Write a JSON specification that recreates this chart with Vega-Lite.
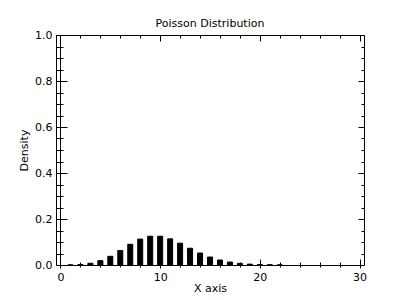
{
  "$schema": "https://vega.github.io/schema/vega-lite/v6.json",
  "width": 308,
  "height": 230,
  "autosize": {"type": "none"},
  "padding": {"left": 56, "top": 35, "right": 36, "bottom": 35},
  "background": "white",
  "title": {"text": "Poisson Distribution", "fontSize": 11, "fontWeight": "normal", "font": "DejaVu Sans", "color": "black", "baseline": "alphabetic", "offset": -9, "anchor": "middle"},
  "config": {
    "view": {"stroke": "black", "strokeWidth": 1},
    "axis": {"labelFont": "DejaVu Sans", "titleFont": "DejaVu Sans", "labelFontSize": 11, "titleFontSize": 11, "titleFontWeight": "normal", "labelColor": "black", "titleColor": "black", "tickColor": "black", "tickWidth": 1, "domain": false, "grid": false, "labelFlush": false, "labelOverlap": false}
  },
  "data": {"values": [
    {"k": 1, "density": 0.00045},
    {"k": 2, "density": 0.00227},
    {"k": 3, "density": 0.00757},
    {"k": 4, "density": 0.0189},
    {"k": 5, "density": 0.0378},
    {"k": 6, "density": 0.0631},
    {"k": 7, "density": 0.0901},
    {"k": 8, "density": 0.1126},
    {"k": 9, "density": 0.1251},
    {"k": 10, "density": 0.1251},
    {"k": 11, "density": 0.1137},
    {"k": 12, "density": 0.0948},
    {"k": 13, "density": 0.0729},
    {"k": 14, "density": 0.0521},
    {"k": 15, "density": 0.0347},
    {"k": 16, "density": 0.0217},
    {"k": 17, "density": 0.0128},
    {"k": 18, "density": 0.0071},
    {"k": 19, "density": 0.0037},
    {"k": 20, "density": 0.0019},
    {"k": 21, "density": 0.0009},
    {"k": 22, "density": 0.0004}
  ]},
  "resolve": {"axis": {"x": "independent", "y": "independent"}},
  "layer": [
    {
      "mark": {"type": "bar", "size": 5, "color": "black", "stroke": "black", "strokeWidth": 1},
      "encoding": {
        "x": {"field": "k", "type": "quantitative", "scale": {"domain": [-0.45, 30.45], "nice": false, "zero": false, "padding": 0},
          "axis": {"orient": "bottom", "values": [0, 10, 20, 30], "tickSize": 9, "offset": -6, "labelPadding": 3, "title": "X axis", "titlePadding": 0, "format": "d"}},
        "y": {"field": "density", "type": "quantitative", "scale": {"domain": [0, 1], "nice": false, "padding": 0},
          "axis": {"orient": "left", "values": [0, 0.2, 0.4, 0.6, 0.8, 1.0], "format": ".1f", "tickSize": 11, "offset": -11, "labelPadding": 4, "title": "Density", "titlePadding": 5}}
      }
    },
    {
      "mark": {"type": "point", "opacity": 0},
      "encoding": {
        "x": {"field": "k", "type": "quantitative", "scale": {"domain": [-0.45, 30.45], "nice": false, "zero": false, "padding": 0},
          "axis": {"orient": "bottom", "values": [2, 4, 6, 8, 12, 14, 16, 18, 22, 24, 26, 28], "tickSize": 5, "offset": -3, "labels": false, "title": null}},
        "y": {"field": "density", "type": "quantitative", "scale": {"domain": [0, 1], "nice": false, "padding": 0},
          "axis": {"orient": "left", "values": [0.05, 0.1, 0.15, 0.25, 0.3, 0.35, 0.45, 0.5, 0.55, 0.65, 0.7, 0.75, 0.85, 0.9, 0.95], "tickSize": 7, "offset": -7, "labels": false, "title": null}}
      }
    },
    {
      "mark": {"type": "point", "opacity": 0},
      "encoding": {
        "x": {"field": "k", "type": "quantitative", "scale": {"domain": [-0.45, 30.45], "nice": false, "zero": false, "padding": 0},
          "axis": {"orient": "top", "values": [0, 10, 20, 30], "tickSize": 6, "offset": -6, "labels": false, "title": null}},
        "y": {"field": "density", "type": "quantitative", "scale": {"domain": [0, 1], "nice": false, "padding": 0},
          "axis": {"orient": "right", "values": [0, 0.2, 0.4, 0.6, 0.8, 1.0], "tickSize": 6, "offset": -6, "labels": false, "title": null}}
      }
    },
    {
      "mark": {"type": "point", "opacity": 0},
      "encoding": {
        "x": {"field": "k", "type": "quantitative", "scale": {"domain": [-0.45, 30.45], "nice": false, "zero": false, "padding": 0},
          "axis": {"orient": "top", "values": [2, 4, 6, 8, 12, 14, 16, 18, 22, 24, 26, 28], "tickSize": 3, "offset": -3, "labels": false, "title": null}},
        "y": {"field": "density", "type": "quantitative", "scale": {"domain": [0, 1], "nice": false, "padding": 0},
          "axis": {"orient": "right", "values": [0.05, 0.1, 0.15, 0.25, 0.3, 0.35, 0.45, 0.5, 0.55, 0.65, 0.7, 0.75, 0.85, 0.9, 0.95], "tickSize": 3, "offset": -3, "labels": false, "title": null}}
      }
    },
    {
      "data": {"values": [{"k": 0}]},
      "mark": {"type": "rule", "color": "black", "strokeWidth": 1},
      "encoding": {
        "x": {"field": "k", "type": "quantitative", "scale": {"domain": [-0.45, 30.45], "nice": false, "zero": false, "padding": 0}, "axis": null}
      }
    }
  ]
}
